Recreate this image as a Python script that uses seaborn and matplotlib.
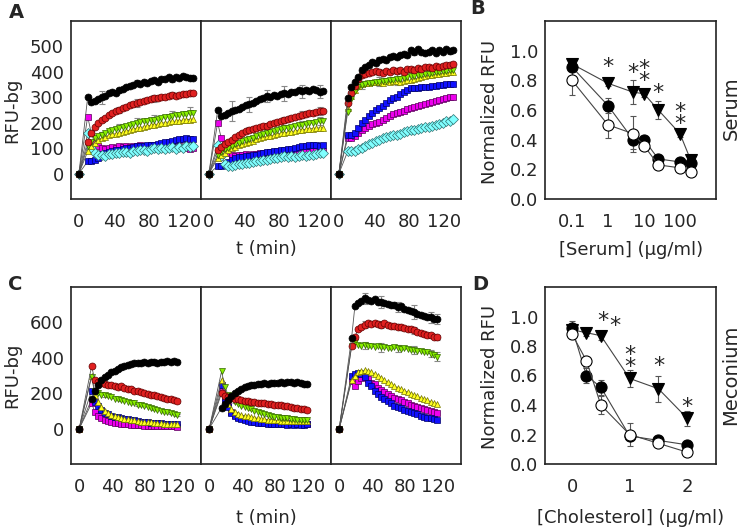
import numpy as np
import pandas as pd
import matplotlib
matplotlib.use("Agg")
import matplotlib.pyplot as plt
import seaborn as sns

sns.set_style("white")
plt.rcParams["font.family"] = ["DejaVu Sans"]

# ---- time course data (A: serum, C: meconium) ----
tA = [0] + list(range(10, 131, 4))
tC = [0] + list(range(15, 120, 4))

A1_black = [300,280,285,292,300,305,315,320,318,328,332,340,345,350,356,352,360,358,363,367,362,370,372,378,372,380,376,382,380,375,377]
A1_red = [126,160,185,200,210,220,230,240,245,250,258,263,268,275,277,282,286,290,294,296,298,300,302,305,308,306,310,312,314,316,318]
A1_green = [107,125,138,146,152,160,166,170,175,178,182,186,190,196,198,202,205,208,210,212,216,220,222,224,226,230,232,235,236,238,240]
A1_yellow = [87,108,122,132,138,144,150,154,157,159,163,167,171,175,178,181,184,187,190,192,195,198,200,203,205,206,208,210,211,212,213]
A1_magenta = [224,160,120,108,100,98,102,104,100,107,105,108,104,110,108,112,106,110,113,108,112,105,110,112,108,104,110,106,102,98,100]
A1_blue = [48,48,52,62,78,82,86,90,92,94,97,100,102,104,107,108,110,111,113,114,118,120,124,126,128,132,134,137,138,136,135]
A1_cyan = [159,100,80,72,74,70,76,78,82,80,84,86,82,88,87,92,94,90,98,100,96,102,98,100,104,98,106,102,110,104,109]

A2_black = [250,225,232,238,246,250,255,262,268,272,278,285,292,298,305,300,310,306,314,316,312,322,320,328,324,330,326,332,328,322,324]
A2_red = [94,105,115,125,132,142,152,160,166,172,175,178,183,186,188,194,198,204,208,212,215,220,224,228,232,236,238,240,242,245,247]
A2_green = [74,85,95,102,108,115,122,128,132,135,140,146,152,156,160,164,168,172,175,178,180,184,188,190,192,196,198,200,204,206,208]
A2_yellow = [61,72,82,92,100,106,112,118,122,126,130,134,138,142,146,148,152,155,158,160,162,165,168,171,172,174,176,177,178,180,178]
A2_magenta = [200,140,100,82,72,70,74,72,76,74,78,76,80,82,80,84,82,86,87,84,88,85,83,86,84,88,86,90,87,85,87]
A2_blue = [29,29,35,45,55,60,64,67,70,70,72,75,78,80,83,85,88,90,92,94,96,98,102,105,107,110,112,114,112,110,112]
A2_cyan = [113,70,38,28,30,32,36,38,40,42,45,48,50,54,55,58,62,60,65,68,64,70,66,70,72,68,75,72,78,80,81]

A3_black = [296,340,360,378,406,418,428,440,436,448,452,448,460,464,458,468,472,466,484,478,488,480,476,478,486,474,484,478,488,482,487]
A3_red = [276,318,345,370,388,392,396,398,402,400,395,404,398,406,404,408,400,410,413,408,415,412,418,419,414,422,420,424,428,426,432]
A3_green = [243,295,325,340,348,352,356,358,360,361,363,365,367,369,370,372,375,378,383,385,387,389,391,393,395,398,400,402,405,407,409]
A3_yellow = [256,305,330,345,354,356,358,362,360,361,358,364,362,365,366,362,364,368,367,372,376,380,384,387,388,390,392,394,396,398,400]
A3_magenta = [139,139,148,160,172,180,188,196,200,204,212,220,228,234,237,242,248,254,258,260,266,270,274,276,280,285,288,292,296,300,302]
A3_blue = [152,152,160,178,198,210,225,240,250,256,266,278,290,298,302,312,320,328,335,336,338,340,341,342,344,346,348,350,352,354,354]
A3_cyan = [87,87,90,95,100,108,115,122,128,133,138,142,147,150,152,157,162,166,170,172,176,180,182,185,188,192,196,200,205,208,213]

C1_black = [165,210,245,272,292,305,318,326,338,346,352,358,364,368,372,368,374,370,376,374,372,378,376,380,378,382,378]
C1_red = [352,275,262,255,250,248,244,240,236,240,232,226,222,214,212,206,202,196,190,188,182,176,174,170,168,162,155]
C1_green = [292,210,200,192,188,182,176,170,166,162,158,152,146,142,136,132,126,120,116,112,106,102,96,92,88,84,79]
C1_yellow = [300,190,150,120,100,88,78,70,64,60,56,52,48,46,43,40,38,36,35,34,32,30,28,27,26,25,24]
C1_blue = [215,150,125,105,90,82,74,68,64,60,56,52,48,46,44,40,38,36,34,33,32,30,28,28,26,25,24]
C1_magenta = [142,95,72,58,50,44,38,34,30,28,26,24,22,20,19,18,17,16,15,16,14,15,13,12,14,12,11]

C2_black = [118,140,160,182,200,214,226,234,240,244,246,250,252,255,254,258,256,260,262,258,262,264,260,262,256,254,250]
C2_red = [200,185,178,174,170,165,160,158,155,152,150,147,145,142,140,138,136,134,131,128,126,122,118,116,112,108,105]
C2_green = [324,235,190,165,150,138,128,120,116,110,100,92,86,82,78,72,68,65,62,60,58,55,52,51,50,49,49]
C2_yellow = [277,190,140,110,95,85,78,72,70,66,62,58,55,52,50,48,47,46,45,44,44,43,43,42,43,42,43]
C2_blue = [245,170,120,90,72,60,52,46,42,38,35,32,30,30,28,27,26,24,24,25,23,24,22,24,23,22,24]
C2_magenta = [217,160,125,95,78,66,60,55,52,48,44,40,38,37,36,35,34,34,33,30,28,30,27,26,28,25,24]

C3_black = [511,690,712,722,736,728,720,730,718,716,712,704,700,696,688,690,676,668,662,660,650,640,636,630,628,622,620]
C3_red = [464,520,560,575,588,595,590,596,592,588,594,584,580,582,576,572,568,562,560,556,548,542,536,530,526,520,515]
C3_green = [464,490,470,468,470,464,468,462,466,460,462,458,456,460,454,452,456,448,446,444,440,436,434,430,424,416,405]
C3_yellow = [277,300,318,326,330,326,318,306,298,288,272,262,250,240,232,222,214,206,198,190,182,174,166,160,152,144,137]
C3_blue = [296,306,315,306,290,258,238,215,193,180,168,155,142,130,122,114,106,98,92,86,80,74,68,62,58,52,49]
C3_magenta = [268,242,270,285,296,280,260,250,232,220,208,195,184,175,168,160,150,142,136,128,122,116,110,104,98,92,86]

# error bars on a few points (index into series, sem)
err_idx_A = [4, 9, 14, 19, 24, 29]
errA1_black = [25, 10, 12, 9, 10, 8]
errA1_red = [8, 12, 15, 14, 12, 10]
errA1_green = [12, 18, 22, 20, 22, 25]
errA2_black = [40, 30, 25, 30, 25, 25]
errA2_red = [8, 10, 12, 12, 14, 15]
errA2_green = [10, 12, 15, 14, 15, 15]
errA3_black = [12, 10, 8, 10, 8, 10]
errA3_red = [10, 12, 10, 10, 12, 10]
errA3_green = [15, 18, 20, 15, 12, 12]
err_idx_C = [4, 9, 14, 19, 24, 26]
errC1_black = [10, 15, 10, 10, 8, 8]
errC1_red = [8, 8, 8, 8, 8, 8]
errC1_green = [8, 6, 6, 6, 6, 6]
errC2_black = [10, 10, 10, 12, 10, 8]
errC2_red = [6, 6, 6, 6, 6, 6]
errC2_green = [6, 6, 6, 6, 6, 6]
errC3_black = [30, 35, 30, 40, 30, 30]
errC3_red = [20, 20, 15, 20, 15, 15]
errC3_green = [20, 25, 20, 25, 20, 25]

# ---- dose response (B: serum, D: cholesterol) ----
conc_B = [0.1, 1, 5, 10, 25, 100, 200]
B_filled = [0.89, 0.63, 0.40, 0.40, 0.27, 0.25, 0.24]
B_filled_err = [0.02, 0.05, 0.06, 0.02, 0.02, 0.02, 0.02]
B_open = [0.80, 0.50, 0.44, 0.36, 0.23, 0.21, 0.18]
B_open_err = [0.10, 0.09, 0.12, 0.02, 0.02, 0.02, 0.02]
B_tri = [0.91, 0.78, 0.72, 0.71, 0.60, 0.44, 0.26]
B_tri_err = [0.02, 0.02, 0.08, 0.02, 0.06, 0.02, 0.02]
# significance marks: centre of the (top) star and how many are stacked
B_star_x = [1, 5, 10, 25, 100]
B_star_y = [0.91, 0.87, 0.90, 0.74, 0.61]
B_star_n = [1, 1, 2, 1, 2]

conc_D = [0, 0.25, 0.5, 1, 1.5, 2]
D_filled = [0.92, 0.60, 0.52, 0.19, 0.16, 0.13]
D_filled_err = [0.02, 0.05, 0.05, 0.02, 0.02, 0.02]
D_open = [0.88, 0.70, 0.40, 0.20, 0.14, 0.08]
D_open_err = [0.02, 0.02, 0.06, 0.08, 0.02, 0.02]
D_tri = [0.91, 0.89, 0.87, 0.58, 0.51, 0.31]
D_tri_err = [0.06, 0.02, 0.03, 0.06, 0.09, 0.05]
D_star_x = [0.53, 0.74, 1, 1.5, 2]
D_star_y = [0.99, 0.955, 0.765, 0.69, 0.41]
D_star_n = [1, 1, 2, 1, 1]

# marker, face colour, edge colour
styles = {
    "magenta": ("s", "#ee00ee", "#550055"),
    "blue": ("s", "#1010ff", "#000066"),
    "cyan": ("D", "#80ffff", "#307070"),
    "yellow": ("^", "#ffff20", "#707000"),
    "green": ("v", "#88ee00", "#336600"),
    "red": ("o", "#e02020", "#600000"),
    "black": ("o", "#000000", "#000000"),
}

W, H = 741, 529
fig = plt.figure(figsize=(W / 100, H / 100), dpi=100)


def add_ax(l, t, r, b):
    return fig.add_axes([l / W, 1 - b / H, (r - l) / W, (b - t) / H])


def style_ax(ax):
    for s in ax.spines.values():
        s.set_color("#222222")
        s.set_linewidth(1.2)
    ax.tick_params(axis="both", direction="out", length=3, width=0.8,
                   color="#555555", labelsize=13, pad=2)
    ax.tick_params(axis="x", pad=7)
    ax.set_xlabel("")
    ax.set_ylabel("")


def time_panel(ax, t, series, errs, err_idx, xlim, ylim, yticks, first):
    for name in ["magenta", "blue", "cyan", "yellow", "green", "red", "black"]:
        if name not in series:
            continue
        y = [0] + series[name]
        m, fc, ec = styles[name]
        if name in errs:
            xe = [t[i + 1] for i in err_idx]
            ye = [series[name][i] for i in err_idx]
            ax.errorbar(xe, ye, yerr=errs[name], fmt="none", ecolor="#888888",
                        elinewidth=0.8, capsize=2.2, capthick=0.8, zorder=1)
        sns.lineplot(x=t, y=y, ax=ax, color="#555555", lw=0.6, marker=m,
                     markersize=5, markerfacecolor=fc, markeredgecolor=ec,
                     markeredgewidth=0.5, zorder=2)
    ax.set_xlim(*xlim)
    ax.set_ylim(*ylim)
    ax.set_xticks([0, 40, 80, 120])
    ax.set_yticks(yticks)
    style_ax(ax)
    if not first:
        ax.tick_params(axis="y", left=False, labelleft=False)


rowA = [
    ({"black": A1_black, "red": A1_red, "green": A1_green, "yellow": A1_yellow,
      "magenta": A1_magenta, "blue": A1_blue, "cyan": A1_cyan},
     {"black": errA1_black, "red": errA1_red, "green": errA1_green}),
    ({"black": A2_black, "red": A2_red, "green": A2_green, "yellow": A2_yellow,
      "magenta": A2_magenta, "blue": A2_blue, "cyan": A2_cyan},
     {"black": errA2_black, "red": errA2_red, "green": errA2_green}),
    ({"black": A3_black, "red": A3_red, "green": A3_green, "yellow": A3_yellow,
      "magenta": A3_magenta, "blue": A3_blue, "cyan": A3_cyan},
     {"black": errA3_black, "red": errA3_red, "green": errA3_green}),
]
rowC = [
    ({"black": C1_black, "red": C1_red, "green": C1_green, "yellow": C1_yellow,
      "blue": C1_blue, "magenta": C1_magenta},
     {"black": errC1_black, "red": errC1_red, "green": errC1_green}),
    ({"black": C2_black, "red": C2_red, "green": C2_green, "yellow": C2_yellow,
      "blue": C2_blue, "magenta": C2_magenta},
     {"black": errC2_black, "red": errC2_red, "green": errC2_green}),
    ({"black": C3_black, "red": C3_red, "green": C3_green, "yellow": C3_yellow,
      "blue": C3_blue, "magenta": C3_magenta},
     {"black": errC3_black, "red": errC3_red, "green": errC3_green}),
]

edges = [71, 201, 331, 461]
for i, (ser, err) in enumerate(rowA):
    ax = add_ax(edges[i], 21, edges[i + 1], 199)
    time_panel(ax, tA, ser, err, err_idx_A, (-9, 139), (-100, 600),
               [0, 100, 200, 300, 400, 500], i == 0)
for i, (ser, err) in enumerate(rowC):
    ax = add_ax(edges[i], 287, edges[i + 1], 464)
    time_panel(ax, tC, ser, err, err_idx_C, (-10, 148), (-200, 800),
               [0, 200, 400, 600], i == 0)


def dose_panel(ax, x, filled, ferr, opn, oerr, tri, terr, sx, sy, sn):
    for y, e, m, fc in [(tri, terr, "v", "black"), (filled, ferr, "o", "black"),
                        (opn, oerr, "o", "white")]:
        ax.errorbar(x, y, yerr=e, fmt="none", ecolor="#555555", elinewidth=0.8,
                    capsize=2.2, capthick=0.8, zorder=1)
        sns.lineplot(x=x, y=y, ax=ax, color="#444444", lw=0.8, marker=m,
                     markersize=8, markerfacecolor=fc, markeredgecolor="black",
                     markeredgewidth=0.8, zorder=2)
    # the asterisk glyph sits high in its text box: lift the anchor so the
    # star itself is centred on the given value
    for a, b, n in zip(sx, sy, sn):
        ax.text(a, b + 0.045, "\n".join(["*"] * n), ha="center", va="top",
                fontsize=16, linespacing=0.51)
    ax.set_ylim(0, 1.2)
    ax.set_yticks([0.0, 0.2, 0.4, 0.6, 0.8, 1.0])
    ax.set_yticklabels(["0.0", "0.2", "0.4", "0.6", "0.8", "1.0"])
    style_ax(ax)


axB = add_ax(545, 21, 716, 199)
axB.set_xscale("log")
dose_panel(axB, conc_B, B_filled, B_filled_err, B_open, B_open_err,
           B_tri, B_tri_err, B_star_x, B_star_y, B_star_n)
axB.set_xlim(0.0178, 1000)
axB.set_xticks([0.1, 1, 10, 100])
axB.set_xticklabels(["0.1", "1", "10", "100"])
axB.minorticks_off()

axD = add_ax(545, 287, 716, 464)
dose_panel(axD, conc_D, D_filled, D_filled_err, D_open, D_open_err,
           D_tri, D_tri_err, D_star_x, D_star_y, D_star_n)
axD.set_xlim(-0.47, 2.5)
axD.set_xticks([0, 1, 2])

# labels
fs = 13
fig.text(12 / W, 1 - 110 / H, "RFU-bg", rotation=90, ha="center", va="center", fontsize=fs)
fig.text(12 / W, 1 - 375 / H, "RFU-bg", rotation=90, ha="center", va="center", fontsize=fs)
fig.text(266 / W, 1 - 249 / H, "t (min)", ha="center", va="center", fontsize=fs)
fig.text(266 / W, 1 - 518 / H, "t (min)", ha="center", va="center", fontsize=fs)
fig.text(490 / W, 1 - 112 / H, "Normalized RFU", rotation=90, ha="center", va="center", fontsize=fs)
fig.text(490 / W, 1 - 377 / H, "Normalized RFU", rotation=90, ha="center", va="center", fontsize=fs)
fig.text(631 / W, 1 - 250 / H, "[Serum] (\u03bcg/ml)", ha="center", va="center", fontsize=fs)
fig.text(631 / W, 1 - 518 / H, "[Cholesterol] (\u03bcg/ml)", ha="center", va="center", fontsize=fs)
fig.text(731 / W, 1 - 108 / H, "Serum", rotation=90, ha="center", va="center", fontsize=14)
fig.text(731 / W, 1 - 375 / H, "Meconium", rotation=90, ha="center", va="center", fontsize=14)

for lab, x, y in [("A", 16, 12), ("B", 478, 9), ("C", 15, 285), ("D", 480, 285)]:
    fig.text(x / W, 1 - y / H, lab, ha="center", va="center", fontsize=14, fontweight="bold")

fig.savefig("out.png", dpi=100)
